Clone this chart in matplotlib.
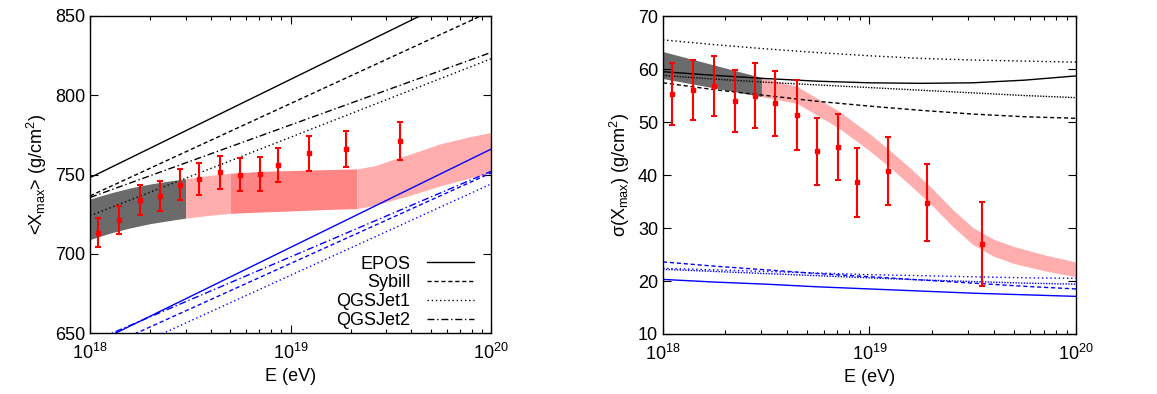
import numpy as np
import matplotlib.pyplot as plt

plt.rcParams['font.family'] = ['Liberation Sans', 'DejaVu Sans']
plt.rcParams['mathtext.fontset'] = 'custom'
plt.rcParams['mathtext.rm'] = 'Liberation Sans'
plt.rcParams['mathtext.it'] = 'Liberation Sans'
plt.rcParams['mathtext.default'] = 'regular'

# measured points
energy = np.array([1.1e18, 1.4e18, 1.77e18, 2.23e18, 2.8e18, 3.5e18, 4.45e18,
                   5.6e18, 7.05e18, 8.7e18, 1.23e19, 1.9e19, 3.5e19])
xmax_mean = [713.4, 721.4, 734.0, 736.6, 743.5, 747.0, 751.3, 749.8, 750.4,
             756.0, 763.4, 766.0, 771.2]
xmax_err = [9.0, 9.0, 9.5, 9.5, 9.7, 10.0, 10.2, 10.3, 10.6, 11.0, 11.0, 11.5, 12.0]
sigma_mean = [55.2, 56.0, 56.8, 54.0, 55.0, 53.5, 51.3, 44.5, 45.3, 38.6, 40.8, 34.8, 27.0]
sigma_err = [5.85, 5.7, 5.7, 5.8, 6.1, 6.1, 6.6, 6.3, 6.25, 6.55, 6.4, 7.25, 7.9]

# fitted band, left panel (log10 E nodes)
band_l_logE = [18.0, 18.1, 18.2, 18.3, 18.4, 18.477, 18.6, 18.7, 18.85, 19.0,
               19.15, 19.33, 19.42, 19.5, 19.6, 19.75, 19.9, 20.0]
band_l_low = [709.0, 713.0, 716.3, 719.0, 721.0, 722.5, 724.3, 725.5, 726.3, 727.0,
              727.8, 728.5, 730.5, 733.5, 737.0, 743.0, 748.0, 751.0]
band_l_high = [734.5, 738.3, 741.5, 744.0, 746.0, 747.3, 749.5, 750.8, 752.0, 752.5,
               753.0, 753.5, 755.5, 759.0, 763.0, 769.5, 774.0, 776.5]

# fitted band, right panel
band_r_logE = [18.0, 18.477, 18.65, 18.85, 19.0, 19.1, 19.2, 19.3, 19.4, 19.5,
               19.6, 19.7, 19.85, 20.0]
band_r_low = [58.2, 54.8, 53.5, 48.9, 44.6, 41.4, 38.0, 34.4, 30.4, 26.9,
              24.7, 23.3, 21.9, 20.8]
band_r_high = [63.3, 58.4, 56.7, 52.1, 47.8, 44.6, 41.2, 37.6, 33.6, 30.1,
               27.9, 26.5, 24.9, 23.6]

models = ['EPOS', 'Sybill', 'QGSJet1', 'QGSJet2']

# <Xmax> model predictions at 1e18 and 1e20 (proton, iron)
mean_logE = [18.0, 20.0]
mean_p = {'EPOS': [748.0, 872.0], 'Sybill': [736.5, 853.0],
          'QGSJet1': [724.0, 823.0], 'QGSJet2': [735.5, 827.0]}
mean_fe = {'EPOS': [642.0, 766.0], 'Sybill': [636.7, 751.0],
           'QGSJet1': [628.8, 744.0], 'QGSJet2': [644.0, 752.0]}

# sigma(Xmax) model predictions
sig_logE = [18.0, 18.25, 18.5, 18.75, 19.0, 19.25, 19.5, 19.75, 20.0]
sig_p = {'EPOS': [59.5, 58.8, 58.2, 57.7, 57.4, 57.3, 57.4, 57.9, 58.7],
         'Sybill': [57.4, 56.1, 55.0, 53.9, 53.0, 52.2, 51.5, 51.0, 50.7],
         'QGSJet1': [65.5, 64.6, 63.8, 63.1, 62.5, 62.0, 61.7, 61.5, 61.3],
         'QGSJet2': [58.8, 58.1, 57.5, 57.0, 56.5, 56.0, 55.5, 55.0, 54.6]}
sig_fe = {'EPOS': [20.3, 19.8, 19.4, 18.9, 18.5, 18.1, 17.7, 17.4, 17.1],
          'Sybill': [23.6, 22.8, 22.1, 21.4, 20.8, 20.2, 19.6, 19.0, 18.5],
          'QGSJet1': [22.4, 22.1, 21.8, 21.5, 21.2, 21.0, 20.8, 20.6, 20.5],
          'QGSJet2': [22.2, 21.8, 21.4, 21.0, 20.6, 20.2, 19.9, 19.6, 19.4]}

styles = {'EPOS': '-', 'Sybill': (0, (3, 2)), 'QGSJet1': (0, (1, 2)),
          'QGSJet2': (0, (5, 2, 1, 2))}
styles_r = dict(styles)
styles_r['QGSJet2'] = (0, (1, 1))

gray = (0.42, 0.42, 0.42)
pink = (1.0, 0.68, 0.68)
darkpink = (1.0, 0.52, 0.52)

fig = plt.figure(figsize=(11.57, 3.94), dpi=100)
ax1 = fig.add_axes([0.0778, 0.1548, 0.3466, 0.8046])
ax2 = fig.add_axes([0.573, 0.1523, 0.357, 0.807])


def fill_band(ax, logE, low, high, i0, i1, clr):
    e = 10.0 ** np.array(logE[i0:i1 + 1])
    ax.fill_between(e, low[i0:i1 + 1], high[i0:i1 + 1], color=clr, lw=0)


# left panel
fill_band(ax1, band_l_logE, band_l_low, band_l_high, 0, 5, gray)
fill_band(ax1, band_l_logE, band_l_low, band_l_high, 5, 7, pink)
fill_band(ax1, band_l_logE, band_l_low, band_l_high, 7, 11, darkpink)
fill_band(ax1, band_l_logE, band_l_low, band_l_high, 11, 17, pink)

e_line = 10.0 ** np.array(mean_logE)
for m in models:
    ax1.plot(e_line, mean_p[m], color='k', lw=1, ls=styles[m], label=m)
    ax1.plot(e_line, mean_fe[m], color='b', lw=1, ls=styles[m])

ax1.errorbar(energy, xmax_mean, yerr=xmax_err, fmt='s', color='red', ms=2.5,
             elinewidth=1.5, capsize=2.5, capthick=1.5)

ax1.set_xscale('log')
ax1.set_xlim(1e18, 1e20)
ax1.set_ylim(650, 850)
ax1.set_yticks([650, 700, 750, 800, 850])
ax1.set_xlabel('E (eV)', fontsize=13)
ax1.set_ylabel('<X$_{max}$> (g/cm$^2$)', fontsize=13)
leg = ax1.legend(loc='lower right', bbox_to_anchor=(0.975, -0.01),
                 frameon=False, markerfirst=False, fontsize=13,
                 handlelength=2.6, labelspacing=0.1, borderaxespad=0,
                 handletextpad=0.9)

# right panel
fill_band(ax2, band_r_logE, band_r_low, band_r_high, 0, 1, gray)
fill_band(ax2, band_r_logE, band_r_low, band_r_high, 1, 13, pink)

e_sig = 10.0 ** np.array(sig_logE)
for m in models:
    ax2.plot(e_sig, sig_p[m], color='k', lw=1, ls=styles_r[m])
    ax2.plot(e_sig, sig_fe[m], color='b', lw=1, ls=styles_r[m])

ax2.errorbar(energy, sigma_mean, yerr=sigma_err, fmt='s', color='red', ms=2.5,
             elinewidth=1.5, capsize=2.5, capthick=1.5)

ax2.set_xscale('log')
ax2.set_xlim(1e18, 1e20)
ax2.set_ylim(10, 70)
ax2.set_yticks(np.arange(10, 71, 10))
ax2.set_xlabel('E (eV)', fontsize=13)
ax2.set_ylabel('σ(X$_{max}$) (g/cm$^2$)', fontsize=13)

for ax in (ax1, ax2):
    ax.tick_params(which='both', direction='in', top=True, right=True,
                   labelsize=13)
    ax.tick_params(axis='x', which='major', pad=7)
    ax.tick_params(which='major', length=6, width=0.8)
    ax.tick_params(which='minor', length=3, width=0.8)
    ax.yaxis.set_minor_locator(plt.NullLocator())
    for s in ax.spines.values():
        s.set_linewidth(1.0)

fig.savefig('out.png', dpi=100)
